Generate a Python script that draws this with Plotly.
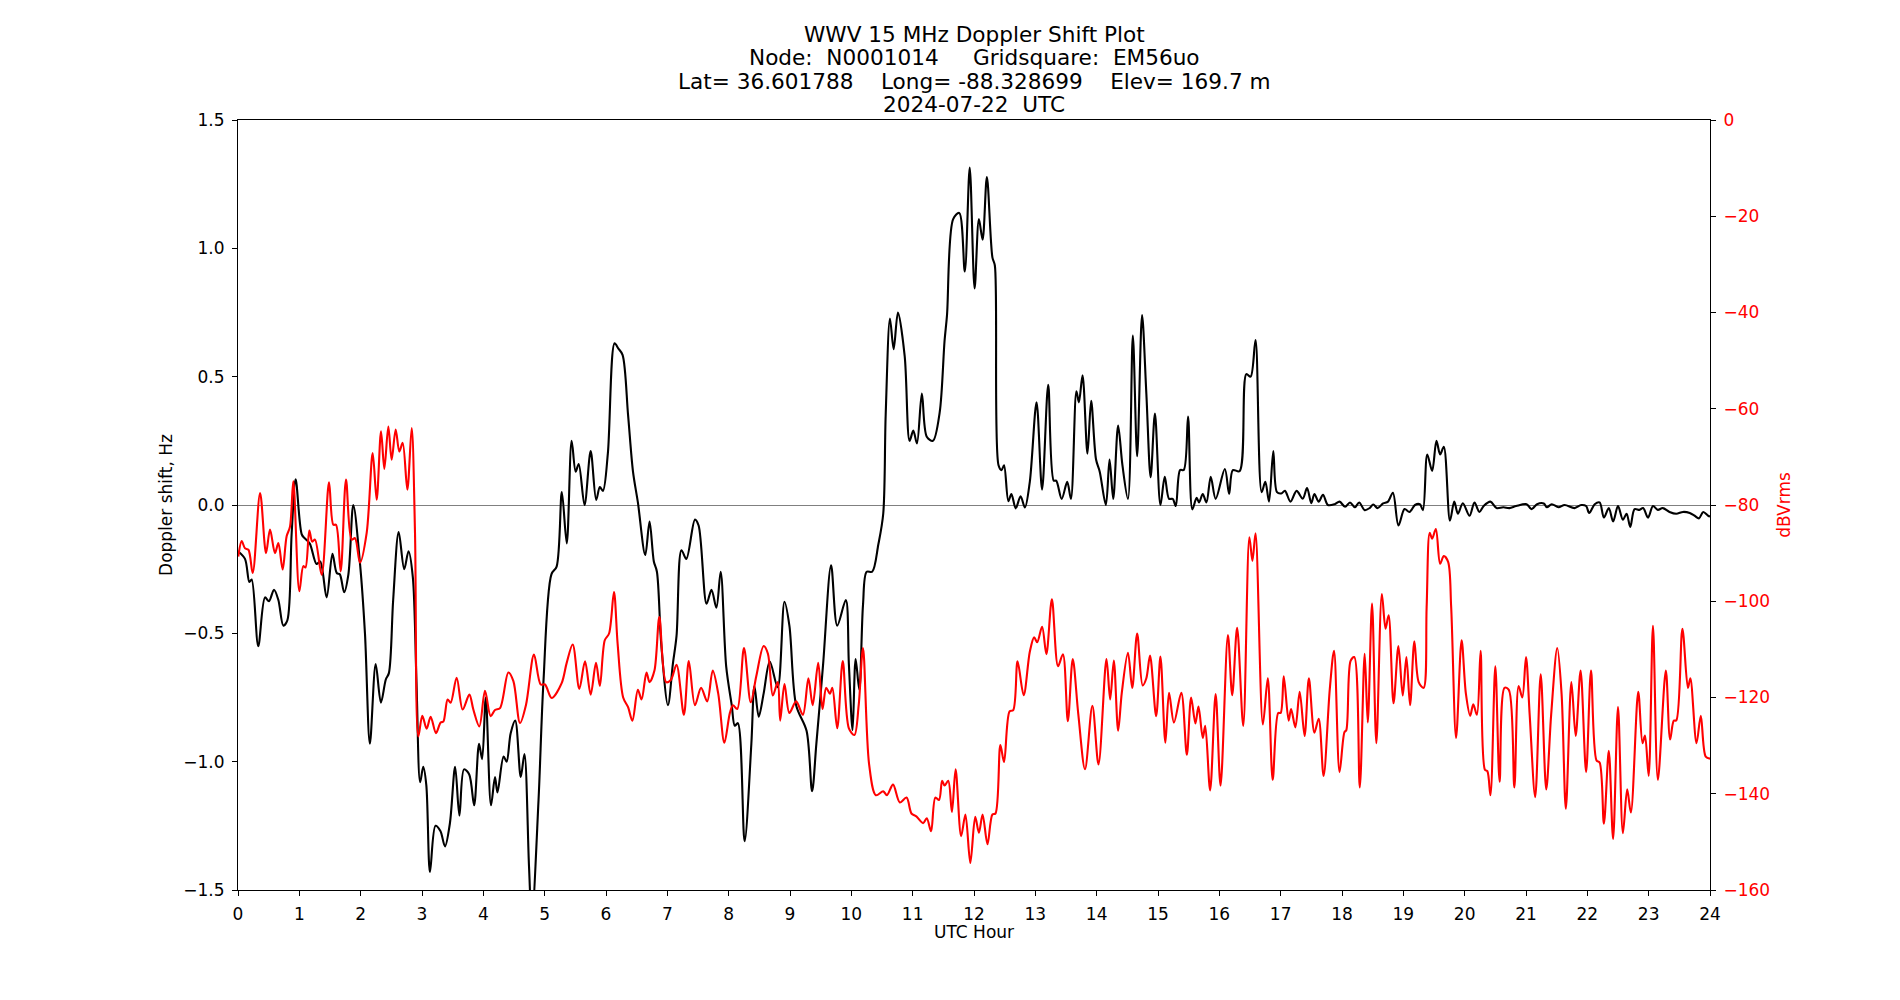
import plotly.graph_objects as go

# ---- Doppler shift (Hz), left axis ----
doppler_hours = [0.0,0.114,0.185,0.223,0.33,0.44,0.505,0.587,0.658,0.739,0.804,0.875,0.94,1.04,1.09,1.17,1.28,1.34,1.445,1.54,1.61,1.66,1.73,1.80,1.88,1.99,2.07,2.15,2.245,2.33,2.41,2.46,2.53,2.62,2.71,2.78,2.85,2.91,2.97,3.02,3.07,3.13,3.22,3.30,3.375,3.455,3.54,3.61,3.685,3.77,3.85,3.93,3.98,4.04,4.125,4.19,4.23,4.33,4.38,4.445,4.52,4.61,4.67,4.745,4.79,4.90,4.98,5.11,5.195,5.28,5.36,5.44,5.505,5.555,5.65,5.75,5.84,5.90,
    5.95,6.03,6.14,6.20,6.27,6.36,6.44,6.52,6.64,6.71,6.78,6.83,6.90,7.01,7.09,7.15,7.23,7.31,7.45,7.51,7.64,7.72,7.80,7.87,7.96,8.05,8.10,8.15,8.26,8.37,8.42,8.49,8.57,8.67,8.80,8.91,8.99,9.10,9.27,9.36,9.43,9.54,9.67,9.77,9.91,9.96,10.02,10.07,10.13,10.19,10.25,10.34,10.44,10.52,10.56,10.63,10.69,10.76,
    10.87,10.95,11.01,11.07,11.15,11.23,11.33,11.44,11.52,11.56,11.66,11.76,11.85,11.93,12.01,12.08,12.14,12.21,12.30,12.34,12.40,12.45,12.49,12.56,12.61,12.68,12.76,12.83,12.91,13.02,13.11,13.21,13.30,13.34,13.43,13.52,13.58,13.67,13.71,13.77,13.85,13.91,13.99,14.05,14.15,14.21,14.27,14.35,14.42,14.51,14.59,14.66,14.74,14.81,14.88,14.95,15.04,15.11,15.18,15.24,15.29,15.36,15.42,15.49,15.56,15.63,15.67,15.73,15.79,15.86,15.94,16.09,16.16,16.22,16.33,16.44,16.51,16.59,16.69,16.75,16.81,16.88,16.94,
    17.01,17.07,17.16,17.26,17.36,17.43,17.50,17.55,17.62,17.69,17.77,17.88,17.96,18.05,18.13,18.21,18.28,18.37,18.45,18.51,18.58,18.67,18.75,18.83,18.92,19.02,19.10,19.19,19.27,19.32,19.39,19.47,19.54,19.60,19.66,19.76,19.83,19.89,19.97,20.08,20.16,20.24,20.31,20.42,20.52,20.63,20.73,20.84,21.01,21.09,21.18,21.29,21.34,21.42,21.53,21.63,21.79,21.90,21.98,22.03,22.12,22.20,22.27,22.35,22.42,22.50,22.58,22.64,22.70,22.77,22.85,22.91,22.99,23.07,23.15,23.23,23.34,23.45,23.56,23.67,23.75,23.82,23.89,23.97,24.0]
doppler_hz = [-0.18,-0.21,-0.30,-0.29,-0.55,-0.36,-0.375,-0.33,-0.37,-0.47,-0.45,-0.11,0.10,-0.115,-0.13,-0.15,-0.23,-0.22,-0.36,-0.19,-0.265,-0.27,-0.34,-0.27,0.0,-0.23,-0.5,-0.93,-0.62,-0.77,-0.68,-0.655,-0.37,-0.105,-0.25,-0.18,-0.28,-0.69,-1.08,-1.02,-1.09,-1.43,-1.25,-1.27,-1.33,-1.24,-1.02,-1.21,-1.03,-1.05,-1.17,-0.93,-0.99,-0.75,-1.17,-1.06,-1.12,-0.98,-1.0,-0.89,-0.84,-1.06,-0.97,-1.41,-1.62,-1.15,-0.69,-0.27,-0.24,0.05,-0.15,0.25,0.13,0.16,0.0,0.21,0.02,0.07,
    0.055,0.20,0.63,0.61,0.585,0.35,0.13,0.01,-0.195,-0.064,-0.22,-0.26,-0.54,-0.78,-0.62,-0.51,-0.176,-0.21,-0.057,-0.08,-0.385,-0.33,-0.40,-0.26,-0.63,-0.78,-0.86,-0.85,-1.31,-0.93,-0.705,-0.825,-0.735,-0.61,-0.71,-0.377,-0.47,-0.78,-0.88,-1.115,-0.93,-0.62,-0.235,-0.47,-0.37,-0.62,-0.877,-0.60,-0.72,-0.39,-0.26,-0.26,-0.154,-0.034,0.35,0.726,0.607,0.75,
    0.58,0.25,0.29,0.24,0.434,0.266,0.25,0.36,0.64,0.74,1.114,1.138,0.91,1.315,0.844,1.114,1.034,1.278,0.965,0.933,0.155,0.136,0.155,0.015,0.043,-0.013,0.034,-0.01,0.09,0.40,0.06,0.468,0.095,0.095,0.024,0.09,0.024,0.443,0.40,0.505,0.20,0.406,0.177,0.13,0.0,0.177,0.024,0.31,0.155,0.024,0.66,0.19,0.74,0.434,0.108,0.356,0.0,0.11,0.024,0.024,-0.004,0.136,0.136,0.345,-0.017,0.028,0.01,0.043,0.01,0.11,0.024,0.14,0.043,0.136,0.132,0.51,0.50,0.643,0.05,0.09,0.013,0.21,0.05,
    0.045,0.055,0.013,0.055,0.025,0.066,0.007,0.043,0.013,0.04,0.0,0.003,0.013,-0.007,0.01,-0.009,0.01,-0.02,-0.012,0.002,-0.012,0.006,0.013,0.048,-0.08,-0.016,-0.027,0.0,0.003,-0.02,0.197,0.133,0.25,0.197,0.227,-0.061,0.013,-0.034,0.007,-0.042,0.01,-0.027,-0.004,0.013,-0.012,-0.009,-0.012,-0.004,0.003,-0.016,0.003,0.006,-0.009,0.003,-0.009,0.0,-0.012,0.0,-0.004,-0.031,0.003,0.01,-0.049,-0.012,-0.064,-0.004,-0.057,-0.034,-0.086,-0.016,-0.019,-0.012,-0.049,-0.004,-0.019,-0.012,-0.027,-0.034,-0.027,-0.031,-0.042,-0.052,-0.027,-0.042,-0.045]

# ---- Signal level (dBVrms), right axis ----
level_hours = [0.005,0.06,0.114,0.17,0.24,0.36,0.457,0.522,0.603,0.658,0.728,0.793,0.848,0.902,1.0,1.065,1.10,1.163,1.21,1.255,1.364,1.484,1.554,1.598,1.674,1.761,1.853,1.908,1.989,2.098,2.196,2.261,2.332,2.386,2.451,2.505,2.571,2.63,2.685,2.761,2.832,2.886,2.94,3.005,3.076,3.141,3.228,3.304,3.348,3.418,3.467,3.565,3.663,3.772,3.837,3.935,4.027,4.12,4.19,4.272,4.408,4.49,4.598,4.696,4.826,4.935,5.005,5.114,5.277,5.359,5.457,5.565,5.658,5.75,5.837,
    5.90,5.98,6.05,6.13,6.19,6.28,6.36,6.43,6.52,6.58,6.66,6.71,6.79,6.87,6.98,7.06,7.15,7.27,7.35,7.45,7.55,7.65,7.74,7.83,7.93,8.02,8.07,8.14,8.25,8.36,8.45,8.57,8.64,8.72,8.80,8.84,8.91,8.99,9.10,9.21,9.30,9.37,9.46,9.53,9.59,9.65,9.69,9.77,9.86,9.96,10.05,10.12,10.19,10.29,10.40,10.52,10.58,10.68,
    10.79,10.90,10.98,11.06,11.17,11.23,11.30,11.37,11.43,11.48,11.52,11.58,11.64,11.70,11.79,11.86,11.94,12.02,12.08,12.14,12.22,12.30,12.35,12.43,12.49,12.58,12.64,12.71,12.81,12.91,12.98,13.03,13.11,13.18,13.27,13.37,13.45,13.53,13.61,13.70,13.81,13.93,14.03,14.16,14.22,14.28,14.35,14.41,14.51,14.58,14.66,14.75,14.81,14.87,14.97,15.04,15.12,15.18,15.26,15.38,15.47,15.54,15.61,15.66,15.73,15.77,15.85,15.94,16.02,16.14,16.21,16.29,16.39,16.49,16.54,16.59,
    16.71,16.79,16.87,16.96,17.0,17.05,17.13,17.17,17.24,17.31,17.39,17.46,17.55,17.62,17.70,17.80,17.87,17.96,18.04,18.07,18.14,18.20,18.29,18.37,18.42,18.49,18.56,18.65,18.71,18.76,18.84,18.92,18.99,19.05,19.11,19.18,19.25,19.33,19.38,19.43,19.47,19.53,19.60,19.66,19.73,19.78,19.86,19.95,20.02,20.09,20.14,20.20,20.26,20.33,20.37,20.42,20.50,20.57,20.65,20.72,20.81,20.88,20.94,21.00,21.06,21.15,21.24,21.33,21.41,21.51,21.58,21.65,21.74,21.81,21.89,21.98,22.06,22.15,22.20,22.27,22.35,22.42,22.50,22.58,22.65,22.71,22.83,22.90,22.94,23.00,23.07,23.15,23.28,23.35,23.41,23.45,23.55,23.64,23.68,23.78,23.85,23.93,24.0]
level_dbv = [-90.7,-87.5,-89,-89.3,-94.1,-77.5,-90,-85.1,-90,-87.9,-93.4,-86.5,-84.5,-75.1,-97.9,-92.7,-93.0,-85.3,-87.6,-87.2,-94.5,-75.3,-84.1,-84.1,-93.8,-74.7,-87.2,-86.9,-92,-85.8,-69.2,-78.9,-64.7,-72.5,-63.7,-70.6,-64.3,-68.9,-67.1,-76.8,-64,-85.8,-128.1,-123.8,-126.5,-124,-127.4,-125.2,-125,-120.4,-121.1,-115.9,-122.5,-119.4,-122.5,-126,-118.6,-123.9,-122.6,-122.2,-114.8,-116.6,-125.3,-121.5,-111.1,-117.3,-117.3,-120.1,-117,-112.8,-109,-118.2,-112.5,-119.4,-112.8,
    -117.6,-108.1,-106.7,-98.1,-108.9,-120,-122,-124.8,-118.4,-120.4,-114.8,-116.8,-114.4,-103.3,-116.8,-116.3,-113.2,-123.6,-112.4,-121.6,-118,-120.8,-114.4,-119.2,-129.4,-123.2,-121.6,-122.4,-109.7,-121,-115.6,-109.3,-110.9,-119.6,-116.8,-124.8,-117.2,-123.2,-120.8,-123.6,-116,-121.6,-112.8,-122.4,-118,-119.2,-118,-126.4,-112.4,-126.4,-127.8,-121.6,-109.7,-133.9,-140.3,-139.5,-140.3,-138.1,
    -141.8,-140.8,-144.1,-144.7,-146.1,-145.1,-147.8,-140.8,-141.3,-137.3,-138.3,-137.3,-143.8,-134.9,-148.8,-144.3,-154.4,-144.8,-148.1,-144.3,-150.5,-144.3,-144.1,-129.9,-133.4,-122.9,-122.6,-112.5,-119.5,-110.5,-107.5,-108.5,-105.3,-111,-99.6,-113.5,-111,-124.9,-112,-123.4,-134.9,-121.7,-133.9,-112,-120.4,-112.3,-126.9,-119,-110.7,-118,-106.7,-117.5,-116,-111.3,-123.9,-111.5,-129.4,-119,-125.2,-119,-131.9,-120,-125.4,-121.9,-128.4,-125.9,-139.3,-119.3,-138.3,-107,-119.5,-105.5,-125.9,-86.7,-91.6,-85.9,
    -125.6,-116,-137.1,-123.2,-123.2,-115.6,-124.8,-122.4,-126.2,-118.8,-128,-116,-127.3,-124.4,-136.3,-118.4,-110.3,-135.5,-127.2,-126.8,-112.4,-111.6,-138.7,-110.9,-125.2,-100.5,-129.5,-98.5,-105.7,-102.9,-121.2,-109.3,-119.6,-111.6,-121.6,-108.3,-116.8,-118,-101.2,-85.8,-87,-85,-92.2,-90.6,-91.8,-101.2,-128.4,-108.1,-119.2,-123.8,-121.4,-123.6,-110.3,-135,-135.3,-140.3,-113.5,-137.5,-118,-118.4,-138.7,-117.6,-120,-111.6,-123.6,-140.7,-115.2,-139.1,-123.6,-109.7,-119.2,-143.1,-116.8,-128,-114.4,-135.5,-114.4,-133.1,-133.5,-146.2,-131.1,-149.4,-122,-148.2,-139.1,-143.9,-118.8,-129.5,-127.9,-136.3,-105.1,-137.1,-114.4,-128.7,-124.8,-124.8,-105.7,-118,-116,-129.5,-123.8,-132.3,-132.7]

title_lines = ["WWV 15 MHz Doppler Shift Plot",
               "Node:  N0001014     Gridsquare:  EM56uo",
               "Lat= 36.601788    Long= -88.328699    Elev= 169.7 m",
               "2024-07-22  UTC"]
x_label = "UTC Hour"
x_ticks = list(range(0, 25))
left_ticks = [-1.5, -1.0, -0.5, 0.0, 0.5, 1.0, 1.5]
right_ticks = list(range(-160, 1, 20))

FONT = "DejaVu Sans"
TICK_SIZE = 17
TITLE_SIZE = 21.6

fig = go.Figure()
fig.add_trace(go.Scatter(x=doppler_hours, y=doppler_hz, mode="lines",
                         line=dict(color="black", width=2.1, shape="spline", smoothing=0.9),
                         yaxis="y", showlegend=False))
fig.add_trace(go.Scatter(x=level_hours, y=level_dbv, mode="lines",
                         line=dict(color="red", width=2.1, shape="spline", smoothing=0.9),
                         yaxis="y2", showlegend=False))

# multi-line title, one annotation per line (tight matplotlib-like line spacing)
line_step = 23.3
for i, txt in enumerate(title_lines):
    fig.add_annotation(text=txt, xref="paper", yref="paper", x=0.5, y=1,
                       xanchor="center", yanchor="middle", showarrow=False,
                       yshift=15.5 + line_step * (len(title_lines) - 1 - i),
                       font=dict(family=FONT, size=TITLE_SIZE, color="black"))

# x-axis label
fig.add_annotation(text=x_label, xref="paper", yref="paper", x=0.5, y=0,
                   xanchor="center", yanchor="middle", showarrow=False, yshift=-42,
                   borderpad=0,
                   font=dict(family=FONT, size=TICK_SIZE, color="black"))

axis_common = dict(ticks="outside", ticklen=5, tickwidth=1.1, tickcolor="black",
                   showline=True, linecolor="black", linewidth=1.1, showgrid=False)

fig.update_layout(
    width=1900, height=1000,
    margin=dict(l=238, r=190, t=120, b=110, autoexpand=False),
    paper_bgcolor="white", plot_bgcolor="white",
    font=dict(family=FONT, size=TICK_SIZE, color="black"),
    xaxis=dict(range=[0, 24], tickvals=x_ticks, mirror=True, zeroline=False,
               ticklabelstandoff=4, **axis_common),
    yaxis=dict(range=[-1.5, 1.5], tickvals=left_ticks, tickformat=".1f",
               zeroline=True, zerolinecolor="#808080", zerolinewidth=1.2,
               ticklabelstandoff=4,
               title=dict(text="Doppler shift, Hz", standoff=6, font=dict(size=TICK_SIZE)),
               **axis_common),
    yaxis2=dict(range=[-160, 0], tickvals=right_ticks, overlaying="y", side="right",
                zeroline=False, ticklabelstandoff=4,
                tickfont=dict(color="red", size=TICK_SIZE),
                title=dict(text="dBVrms", standoff=8, font=dict(color="red", size=TICK_SIZE)),
                **axis_common),
)

fig.write_html("out.html")
